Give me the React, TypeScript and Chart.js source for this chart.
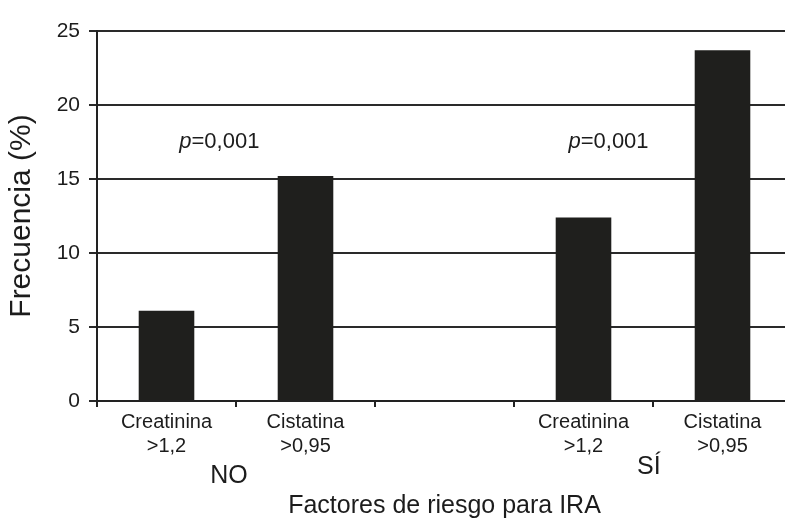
import React, { useEffect, useRef } from "react";
import { Chart, registerables } from "chart.js";

Chart.register(...registerables);

const categories: (string | string[])[] = [
  ["Creatinina", ">1,2"],
  ["Cistatina", ">0,95"],
  "",
  ["Creatinina", ">1,2"],
  ["Cistatina", ">0,95"],
];
const frecuencia: (number | null)[] = [6.1, 15.2, null, 12.4, 23.7];
const yTicks = [0, 5, 10, 15, 20, 25];
const groupLabels = ["NO", "SÍ"];
const pLabels = ["0,001", "0,001"];

const FONT = "'Liberation Sans', Arial, sans-serif";
const TEXT = "#1c1c1c";

const annotationPlugin = {
  id: "annotations",
  afterDraw(chart: any) {
    const ctx = chart.ctx;
    const xs = chart.scales.x;
    const ys = chart.scales.y;
    ctx.save();
    ctx.fillStyle = TEXT;
    ctx.textBaseline = "middle";
    // p values
    const pPos = [0.38, 3.18];
    pPos.forEach((idx, i) => {
      const cx = xs.getPixelForValue(idx);
      const cy = ys.getPixelForValue(17.5);
      ctx.font = `italic 22px ${FONT}`;
      const w1 = ctx.measureText("p").width;
      ctx.font = `22px ${FONT}`;
      const rest = "=" + pLabels[i];
      const w2 = ctx.measureText(rest).width;
      const x0 = cx - (w1 + w2) / 2;
      ctx.textAlign = "left";
      ctx.font = `italic 22px ${FONT}`;
      ctx.fillText("p", x0, cy);
      ctx.font = `22px ${FONT}`;
      ctx.fillText(rest, x0 + w1, cy);
    });
    // group labels
    const gPos = [
      { idx: 0.45, y: 476 },
      { idx: 3.47, y: 467 },
    ];
    ctx.font = `25px ${FONT}`;
    ctx.textAlign = "center";
    gPos.forEach((g, i) => {
      ctx.fillText(groupLabels[i], xs.getPixelForValue(g.idx), g.y);
    });
    ctx.restore();
  },
};

export default function App() {
  const ref = useRef<HTMLCanvasElement | null>(null);
  useEffect(() => {
    if (!ref.current) return;
    const chart = new Chart(ref.current, {
      type: "bar",
      data: {
        labels: categories,
        datasets: [
          {
            label: "Frecuencia (%)",
            data: frecuencia,
            backgroundColor: "#1f1f1d",
            borderWidth: 0,
            barPercentage: 0.4,
            categoryPercentage: 1,
          },
        ],
      },
      options: {
        animation: false,
        responsive: true,
        maintainAspectRatio: false,
        layout: { padding: { top: 31, right: 0, left: 0, bottom: 0 } },
        plugins: {
          legend: { display: false },
          tooltip: { enabled: false },
        },
        scales: {
          x: {
            grid: {
              offset: true,
              drawOnChartArea: false,
              drawTicks: true,
              tickLength: 6,
              color: "#222",
              lineWidth: 2,
            },
            border: { color: "#222", width: 2 },
            ticks: {
              color: TEXT,
              font: { family: FONT, size: 20 },
              padding: 3,
              maxRotation: 0,
              autoSkip: false,
            },
            title: {
              display: true,
              text: "Factores de riesgo para IRA",
              color: TEXT,
              font: { family: FONT, size: 25 },
              padding: { top: 0, bottom: 0 },
            },
            afterFit(scale: any) {
              scale.height = 120;
            },
          },
          y: {
            min: 0,
            max: 25,
            afterBuildTicks(scale: any) {
              scale.ticks = yTicks.map((v) => ({ value: v }));
            },
            grid: {
              color: "#2a2a2a",
              lineWidth: 2,
              tickLength: 8,
            },
            border: { color: "#222", width: 2 },
            ticks: {
              color: TEXT,
              font: { family: FONT, size: 21 },
              padding: 9,
            },
            title: {
              display: true,
              text: "Frecuencia (%)",
              color: TEXT,
              font: { family: FONT, size: 30 },
              padding: { top: 4, bottom: 0 },
            },
            afterFit(scale: any) {
              scale.width = 97;
            },
          },
        },
      },
      plugins: [annotationPlugin],
    });
    return () => chart.destroy();
  }, []);

  return (
    <div
      style={{
        position: "absolute",
        left: 0,
        top: 0,
        width: 785,
        height: 519,
        overflow: "hidden",
        background: "#fff",
      }}
    >
      <div style={{ position: "relative", width: 792, height: 521 }}>
        <canvas ref={ref} />
      </div>
    </div>
  );
}
